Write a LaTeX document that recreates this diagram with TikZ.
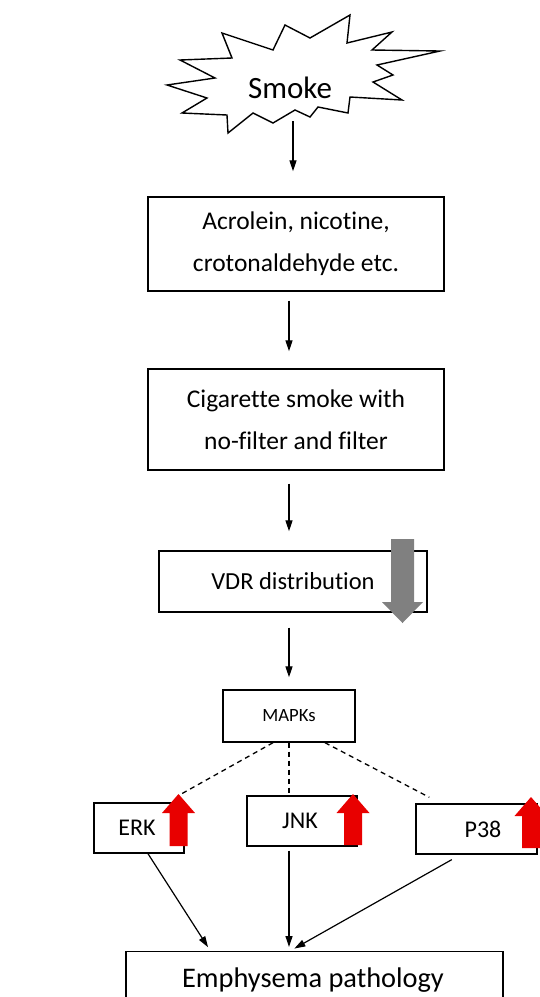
\documentclass[tikz,border=0pt]{standalone}
\usepackage{fontspec}
\setmainfont{Carlito}[Ligatures=NoCommon]
\usetikzlibrary{arrows.meta}
\definecolor{uparrow}{RGB}{232,0,0}
\definecolor{downarrow}{RGB}{128,128,128}
\tikzset{
  boxnode/.style={draw, line width=1.4pt, inner sep=0pt, align=center,
    font=\fontsize{25.5}{42}\selectfont},
  flow/.style={-{Triangle[width=7pt,length=11pt]}, line width=1.2pt},
  linkline/.style={line width=1.3pt, dash pattern=on 5pt off 4pt},
}
\begin{document}
\begin{tikzpicture}[x=1pt, y=-1pt]

    % the frame
    \useasboundingbox (0,0) rectangle (540,997);
    \clip (0,0) rectangle (540,997);

    % the smoke
    \draw[line width=1.4pt, line join=miter]
        (402,100) -- (373,82) -- (393,75) -- (377,65) -- (440,51) -- (372,50)
        -- (392,32) -- (347,43) -- (350,15) -- (310,38) -- (285,25) -- (273,50)
        -- (222,33) -- (232,58) -- (180,60) -- (215,78) -- (167,85) -- (207,98)
        -- (182,113) -- (227,115) -- (228,133) -- (253,113) -- (273,123)
        -- (295,110) -- (310,117) -- (318,107) -- (348,113) -- (350,97) -- cycle;
    \node[font=\fontsize{31}{34}\selectfont] (smoke) at (290,88) {Smoke};
    \coordinate (smokebase) at (293,112);

    % the chain
    \node[boxnode, minimum width=296pt, minimum height=94pt] (acro) at (296,244)
        {Acrolein, nicotine,\\crotonaldehyde etc.};
    \node[boxnode, minimum width=296pt, minimum height=101pt] (cig) at (296,419.5)
        {Cigarette smoke with\\no-filter and filter};
    \node[boxnode, minimum width=268pt, minimum height=61pt,
        font=\fontsize{24.5}{28}\selectfont] (vdr) at (293,581.5) {VDR distribution};
    \node[boxnode, minimum width=132pt, minimum height=52pt,
        font=\fontsize{18.7}{22}\selectfont] (mapks) at (289,716) {MAPKs};

    % the kinases
    \tikzset{kinase/.style={boxnode, minimum height=50pt, font=\fontsize{24}{26}\selectfont}}
    \node[kinase, minimum width=90pt] (erk) at (139,828) {\makebox[0pt]{\hspace*{-4pt}ERK}};
    \node[kinase, minimum width=110pt] (jnk) at (302,821) {\makebox[0pt]{\hspace*{-4pt}JNK}};
    \node[kinase, minimum width=121pt] (p38) at (476.5,829) {\makebox[0pt]{\hspace*{13pt}P38}};

    % the outcome
    \node[boxnode, minimum width=377pt, minimum height=60pt, anchor=north] (emph) at (314.5,951) {};
    \node[font=\fontsize{28.4}{32}\selectfont] (emphtext) at (313,980) {Emphysema pathology};

    % arrows down the chain
    \draw[flow, shorten <=9pt, shorten >=25pt] (smokebase) -- (smokebase |- acro.north);
    \draw[flow, shorten <=9pt, shorten >=17pt] (acro.south -| mapks) -- (cig.north -| mapks);
    \draw[flow, shorten <=13pt, shorten >=19pt] (cig.south -| mapks) -- (vdr.north -| mapks);
    \draw[flow, shorten <=15pt, shorten >=12pt] (vdr.south -| mapks) -- (mapks.north);

    % links to the kinases
    \draw[linkline] ([xshift=-16pt]mapks.south) -- ([shift={(-4pt,8pt)}]erk.north east);
    \draw[linkline] (mapks.south) -- ([yshift=1pt]mapks.south |- jnk.north);
    \draw[linkline] ([xshift=36pt]mapks.south) -- ([shift={(14pt,6pt)}]p38.north west);

    % arrows to the outcome
    \draw[flow, shorten >=4.5pt] ([xshift=9pt]erk.south) -- ([xshift=-104pt]emph.north);
    \draw[flow, shorten <=4pt, shorten >=4pt] (jnk.south -| mapks) -- (emph.north -| mapks);
    \draw[flow, shorten <=10pt, shorten >=5pt] ([xshift=-16pt]p38.south) -- ([xshift=-24.5pt]emph.north);

    % down and up marks
    \fill[downarrow] (391,539) -- (391,602) -- (382,602) -- (402.5,623) -- (423,602)
        -- (414,602) -- (414,539) -- cycle;
    \foreach \c/\t/\b in {178.5/794/846, 353/794/845, 531/797/848} {
        \fill[uparrow] ({\c-9},\b) -- ({\c-9},{\t+19}) -- ({\c-16.5},{\t+19}) -- (\c,\t)
            -- ({\c+16.5},{\t+19}) -- ({\c+9},{\t+19}) -- ({\c+9},\b) -- cycle;
    }

\end{tikzpicture}
\end{document}
